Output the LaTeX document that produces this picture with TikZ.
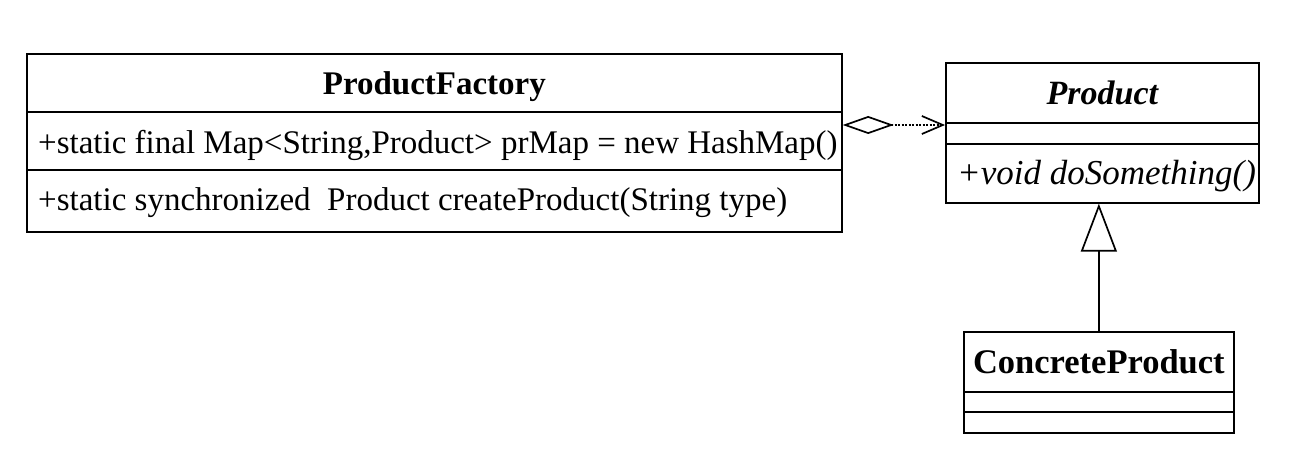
\documentclass[tikz,border=0pt]{standalone}
\usepackage{fontspec}
\setmainfont{Liberation Serif}
\usetikzlibrary{arrows.meta,calc}
\begin{document}
\begin{tikzpicture}[x=1pt,y=-1pt,
  box/.style={draw, line width=1.7pt, inner sep=0pt, anchor=north west},
  bname/.style={font=\bfseries\fontsize{33}{40}\selectfont},
  lbl/.style={font=\fontsize{33}{40}\selectfont, inner sep=0pt, anchor=west},
  conn/.style={line width=1.7pt}]
\useasboundingbox (0,0) rectangle (1296,462);
% ProductFactory
\node[box, minimum width=815pt, minimum height=58pt] (pfName) at (26,53) {};
\node[box, minimum width=815pt, minimum height=58pt] (pfAttr) at (26,111) {};
\node[box, minimum width=815pt, minimum height=62pt] (pfOp) at (26,169) {};
\node[bname, inner sep=0pt] (pfNameT) at ([yshift=-4pt]pfName.center) {ProductFactory};
\node[lbl] (pfAttrT) at ([xshift=12pt,yshift=-5pt]pfAttr.west) {+static final Map<String,Product> prMap = new HashMap()};
\node[lbl] (pfOpT) at ([xshift=12pt,yshift=-2pt]pfOp.west) {+static synchronized\ \ Product createProduct(String type)};
% Product
\node[box, font=\bfseries\itshape\fontsize{34}{40}\selectfont, minimum width=313pt, minimum height=60pt] (prName) at (945,62) {Product};
\node[box, minimum width=313pt, minimum height=21pt] (prAttr) at (945,122) {};
\node[box, minimum width=313pt, minimum height=59pt] (prOp) at (945,143) {};
\node[lbl, font=\itshape\fontsize{35}{40}\selectfont] (prOpT) at ([xshift=12pt,yshift=-3pt]prOp.west) {+void doSomething()};
% ConcreteProduct
\node[box, font=\bfseries\fontsize{34.5}{40}\selectfont, minimum width=270pt, minimum height=60pt] (cpName) at (963,331) {ConcreteProduct};
\node[box, minimum width=270pt, minimum height=20pt] (cpAttr) at (963,391) {};
\node[box, minimum width=270pt, minimum height=21pt] (cpOp) at (963,411) {};
% aggregation
\coordinate (aggS) at ($(pfAttr.north east)+(0,14)$);
\draw[conn, dash pattern=on 2pt off 1.5pt, {Diamond[open,length=51pt,width=18pt]}-{Straight Barb[length=21pt,width=18pt]}] (aggS) -- (aggS -| prAttr.west);
% generalization
\draw[conn, -{Triangle[open,length=48pt,width=36pt]}] (cpName.north) -- (cpName.north |- prOp.south);
\end{tikzpicture}
\end{document}
